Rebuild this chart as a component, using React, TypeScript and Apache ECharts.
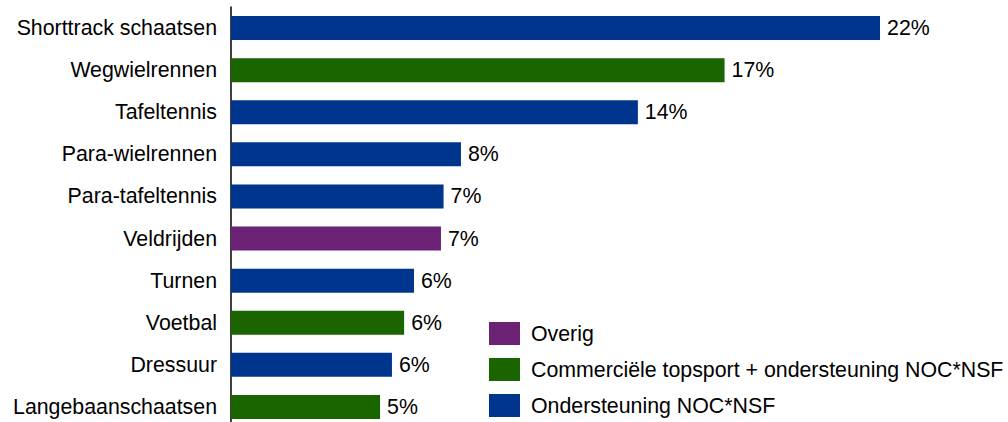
import React, { useEffect, useRef } from "react";
import * as echarts from "echarts";

const categories = [
  "Shorttrack schaatsen",
  "Wegwielrennen",
  "Tafeltennis",
  "Para-wielrennen",
  "Para-tafeltennis",
  "Veldrijden",
  "Turnen",
  "Voetbal",
  "Dressuur",
  "Langebaanschaatsen",
];
const values = [22.38, 17.02, 14.03, 7.93, 7.33, 7.24, 6.31, 5.97, 5.55, 5.14];
const groups = [
  "Ondersteuning NOC*NSF",
  "Commerciële topsport + ondersteuning NOC*NSF",
  "Ondersteuning NOC*NSF",
  "Ondersteuning NOC*NSF",
  "Ondersteuning NOC*NSF",
  "Overig",
  "Ondersteuning NOC*NSF",
  "Commerciële topsport + ondersteuning NOC*NSF",
  "Ondersteuning NOC*NSF",
  "Commerciële topsport + ondersteuning NOC*NSF",
];
const legendOrder = [
  "Overig",
  "Commerciële topsport + ondersteuning NOC*NSF",
  "Ondersteuning NOC*NSF",
];
const groupColors = ["#6B2174", "#1B6500", "#00358E"];

const FONT = "'Liberation Sans', Arial, sans-serif";
const FS = 21.33;

export default function App() {
  const ref = useRef<HTMLDivElement>(null);
  useEffect(() => {
    if (!ref.current) return;
    const chart = echarts.init(ref.current, undefined, { renderer: "svg" });
    const cats = [...categories].reverse();
    const vals = [...values].reverse();
    const grps = [...groups].reverse();
    const series = legendOrder.map((g, gi) => ({
      name: g,
      type: "bar",
      stack: "total",
      barWidth: 24,
      itemStyle: { color: groupColors[gi] },
      data: vals.map((v, i) => (grps[i] === g ? v : "-")),
      label: {
        show: true,
        position: "right",
        distance: 7,
        color: "#000",
        fontSize: FS,
        fontFamily: FONT,
        formatter: (p: any) => Math.round(p.value) + "%",
      },
    }));
    chart.setOption({
      animation: false,
      textStyle: { fontFamily: FONT },
      grid: { left: 231, top: 7, width: 725, height: 421 },
      legend: {
        orient: "vertical",
        left: 489,
        top: 322,
        padding: 0,
        icon: "rect",
        itemWidth: 31,
        itemHeight: 23,
        itemGap: 13,
        data: legendOrder,
        textStyle: { fontSize: FS, color: "#000", fontFamily: FONT, padding: [0, 0, 0, 6] },
      },
      xAxis: {
        type: "value",
        min: 0,
        max: 25,
        show: false,
      },
      yAxis: {
        type: "category",
        data: cats,
        axisLine: { show: true, lineStyle: { color: "#000", width: 1.5 } },
        axisTick: { show: false },
        axisLabel: { color: "#000", fontSize: FS, fontFamily: FONT, margin: 14 },
        splitLine: { show: false },
      },
      series,
    });
    return () => chart.dispose();
  }, []);
  return (
    <div
      ref={ref}
      style={{ position: "fixed", left: 0, top: 0, width: 1008, height: 430, background: "#fff" }}
    />
  );
}
